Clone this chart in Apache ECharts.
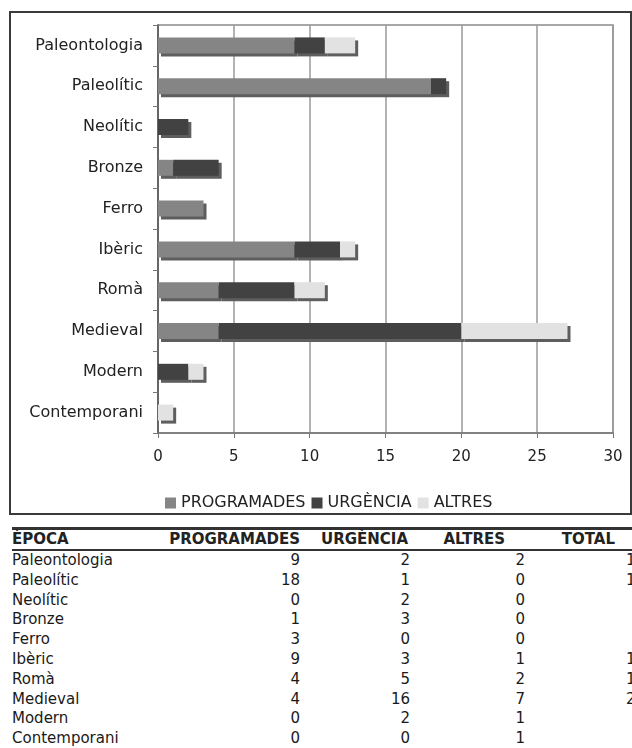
<!DOCTYPE html>
<html><head><meta charset="utf-8">
<script src="https://cdn.jsdelivr.net/npm/echarts@6/dist/echarts.min.js"></script>
<style>
html,body{margin:0;padding:0;width:632px;height:748px;overflow:hidden;background:#fff;font-family:"DejaVu Sans",Verdana,sans-serif;}
#chart{position:absolute;left:0;top:0;width:632px;height:520px;}
#frame{position:absolute;left:9px;top:11px;width:619px;height:500px;border:2px solid #3a3a3a;pointer-events:none;}
#wrap{position:absolute;left:12px;top:527px;width:700px;}
#tbl{width:633px;border-collapse:separate;border-spacing:0;table-layout:fixed;font-size:15px;color:#1a1a1a;}
#tbl th{font-weight:bold;font-size:15px;color:#222;border-top:3px solid #333;border-bottom:2px solid #333;line-height:19px;padding:0;white-space:nowrap;}
#tbl td{line-height:19.8px;padding:0;white-space:nowrap;}
</style>
</head><body>
<div id="chart"></div>
<div id="frame"></div>
<div id="wrap">
<table id="tbl"><colgroup><col style="width:150px"><col style="width:138px"><col style="width:110px"><col style="width:115px"><col style="width:120px"></colgroup><thead><tr id="hdr"></tr></thead><tbody id="tb"></tbody></table>
</div>
<script>
const categories = ['Paleontologia','Paleolític','Neolític','Bronze','Ferro','Ibèric','Romà','Medieval','Modern','Contemporani'];
const programades = [9,18,0,1,3,9,4,4,0,0];
const urgencia = [2,1,2,3,0,3,5,16,2,0];
const altres = [2,0,0,0,0,1,2,7,1,1];
const totals = [13,19,2,4,3,13,11,27,3,1];
const seriesNames = ['PROGRAMADES','URGÈNCIA','ALTRES'];
const colHeaders = ['ÈPOCA','PROGRAMADES','URGÈNCIA','ALTRES','TOTAL'];

const colors = ['#858585','#424242','#e2e2e2'];
const seriesData = [programades, urgencia, altres];

const chart = echarts.init(document.getElementById('chart'), null, {renderer:'canvas'});
chart.setOption({
  animation:false,
  backgroundColor:'#fff',
  grid:{left:158, top:25, right:19, height:408, show:true, borderColor:'#8a8a8a', borderWidth:1.5, containLabel:false},
  legend:{
    data:seriesNames, left:160, top:490, icon:'rect', itemWidth:11, itemHeight:11, itemGap:6,
    textStyle:{fontSize:16, color:'#222', fontFamily:'DejaVu Sans'},
    itemStyle:{shadowColor:'rgba(0,0,0,0)', shadowOffsetX:0, shadowOffsetY:0, shadowBlur:0}
  },
  xAxis:{
    type:'value', min:0, max:30, interval:5,
    axisLine:{show:true, lineStyle:{color:'#777', width:1.5}},
    axisTick:{show:true, length:5, lineStyle:{color:'#777'}},
    splitLine:{show:true, lineStyle:{color:'#9a9a9a', width:1.5}},
    axisLabel:{fontSize:15, color:'#222', margin:17, fontFamily:'DejaVu Sans'}
  },
  yAxis:{
    type:'category', data:categories, inverse:true,
    axisLine:{show:true, lineStyle:{color:'#555', width:1.5}},
    axisTick:{show:true, length:5, lineStyle:{color:'#777'}},
    axisLabel:{fontSize:16, color:'#222', margin:15, fontFamily:'DejaVu Sans'},
    splitLine:{show:false}
  },
  series: seriesNames.map((n,i)=>({
    name:n, type:'bar', stack:'total', data:seriesData[i], barWidth:16,
    itemStyle:{color:colors[i], shadowColor:'#5e5e5e', shadowOffsetX:3, shadowOffsetY:3, shadowBlur:0}
  }))
});

// table
const hdr = document.getElementById('hdr');
const hAlign = [['left','0'],['right','0'],['right','2px'],['right','20px'],['right','30px']];
colHeaders.forEach((h,i)=>{
  const th=document.createElement('th'); th.textContent=h;
  th.style.textAlign=hAlign[i][0]; th.style.paddingRight=hAlign[i][1];
  hdr.appendChild(th);
});
const tb=document.getElementById('tb');
categories.forEach((c,k)=>{
  const tr=document.createElement('tr');
  [c, programades[k], urgencia[k], altres[k], totals[k]].forEach((v,i)=>{
    const td=document.createElement('td'); td.textContent=v;
    td.style.textAlign = i===0?'left':'right';
    tr.appendChild(td);
  });
  tb.appendChild(tr);
});
</script>
</body></html>
